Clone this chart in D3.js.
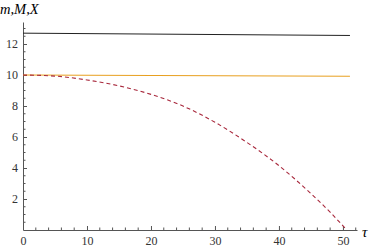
<!DOCTYPE html>
<html>
<head>
<meta charset="utf-8">
<script src="https://cdn.jsdelivr.net/npm/d3@7"></script>
<style>
  body { margin: 0; background: #fff; }
  svg { display: block; }
  .tick text { font-family: "Liberation Serif", "DejaVu Serif", serif; font-size: 12px; fill: #333; }
  .axis path, .axis line { stroke: #555; }
</style>
</head>
<body>
<script>
// tau samples and the three curves
var tauM = [0, 51.1];
var bigM = [12.7, 12.55];          // black
var tauX = [0, 51.1];
var bigX = [10.0, 9.92];           // orange
var tauSmall = [0, 5, 10, 15, 20, 25, 30, 35, 40, 45, 48, 50.6];
var smallM = [10, 9.93, 9.68, 9.3, 8.75, 8.0, 6.95, 5.65, 4.15, 2.35, 1.15, 0]; // dashed red

var xTicks = [0, 10, 20, 30, 40, 50];
var yTicks = [2, 4, 6, 8, 10, 12];

var width = 374, height = 247;
var x0 = 23, x1 = 357, y0 = 230, y1 = 22;

var svg = d3.select("body").append("svg")
    .attr("width", width)
    .attr("height", height);

var x = d3.scaleLinear().domain([0, 52.2]).range([x0, x1]);
var y = d3.scaleLinear().domain([0, 13.42]).range([y0, y1]);

// minor ticks
var minorX = d3.range(0, 52.2, 2).filter(function (d) { return d % 10 != 0; });
var minorY = d3.range(0.5, 13.4, 0.5).filter(function (d) { return d % 2 != 0; });

var xAxis = svg.append("g")
    .attr("class", "axis")
    .attr("transform", "translate(0," + y0 + ")")
    .call(d3.axisBottom(x).tickValues(xTicks).tickSize(4).tickSizeOuter(0).tickPadding(2));
xAxis.selectAll(".tick line").attr("y2", -4);
svg.append("g")
    .attr("class", "axis")
    .selectAll("line").data(minorX).enter().append("line")
    .attr("x1", function (d) { return x(d); })
    .attr("x2", function (d) { return x(d); })
    .attr("y1", y0).attr("y2", y0 - 2.5);

var yAxis = svg.append("g")
    .attr("class", "axis")
    .attr("transform", "translate(" + x0 + ",0)")
    .call(d3.axisLeft(y).tickValues(yTicks).tickSize(4).tickSizeOuter(0).tickPadding(1));
yAxis.selectAll(".tick line").attr("x2", 4);
svg.append("g")
    .attr("class", "axis")
    .selectAll("line").data(minorY).enter().append("line")
    .attr("x1", x0).attr("x2", x0 + 2.5)
    .attr("y1", function (d) { return y(d); })
    .attr("y2", function (d) { return y(d); });

// axis labels
svg.append("text")
    .attr("x", 0).attr("y", 14)
    .style("font-family", "'Liberation Serif', serif")
    .style("font-style", "italic")
    .style("font-size", "14.5px")
    .text("m,M,X");
svg.append("text")
    .attr("x", 362).attr("y", 237)
    .style("font-family", "'Liberation Serif', serif")
    .style("font-style", "italic")
    .style("font-size", "15px")
    .text("τ");

var line = d3.line()
    .x(function (d) { return x(d[0]); })
    .y(function (d) { return y(d[1]); })
    .curve(d3.curveMonotoneX);

svg.append("path")
    .datum(d3.zip(tauM, bigM))
    .attr("d", line)
    .attr("fill", "none")
    .attr("stroke", "#222")
    .attr("stroke-width", 1);

svg.append("path")
    .datum(d3.zip(tauX, bigX))
    .attr("d", line)
    .attr("fill", "none")
    .attr("stroke", "#e8a020")
    .attr("stroke-width", 1.2);

svg.append("path")
    .datum(d3.zip(tauSmall, smallM))
    .attr("d", line)
    .attr("fill", "none")
    .attr("stroke", "#a8283c")
    .attr("stroke-width", 1.1)
    .attr("stroke-dasharray", "4,3");
</script>
</body>
</html>
